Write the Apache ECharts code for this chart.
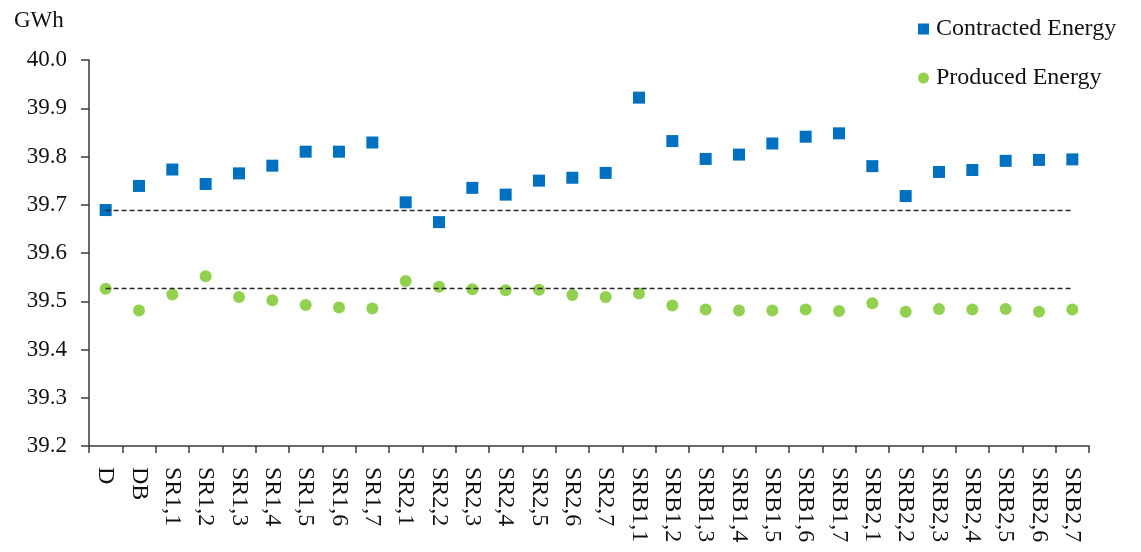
<!DOCTYPE html>
<html>
<head>
<meta charset="utf-8">
<script src="https://cdn.jsdelivr.net/npm/echarts@6/dist/echarts.min.js"></script>
<style>
  html, body { margin: 0; padding: 0; background: #fff; }
  #chart { width: 1141px; height: 552px; }
</style>
</head>
<body>
<div id="chart"></div>
<script>
// Scenario names along the horizontal axis
const categories = [
  'D', 'DB',
  'SR1,1', 'SR1,2', 'SR1,3', 'SR1,4', 'SR1,5', 'SR1,6', 'SR1,7',
  'SR2,1', 'SR2,2', 'SR2,3', 'SR2,4', 'SR2,5', 'SR2,6', 'SR2,7',
  'SRB1,1', 'SRB1,2', 'SRB1,3', 'SRB1,4', 'SRB1,5', 'SRB1,6', 'SRB1,7',
  'SRB2,1', 'SRB2,2', 'SRB2,3', 'SRB2,4', 'SRB2,5', 'SRB2,6', 'SRB2,7'
];

// Energy per scenario, GWh
const contracted = [
  39.689, 39.739,
  39.773, 39.743, 39.765, 39.781, 39.810, 39.810, 39.829,
  39.705, 39.664, 39.735, 39.721, 39.750, 39.756, 39.766,
  39.922, 39.832, 39.795, 39.804, 39.827, 39.841, 39.848,
  39.780, 39.718, 39.768, 39.772, 39.791, 39.793, 39.794
];
const produced = [
  39.526, 39.481,
  39.514, 39.552, 39.509, 39.502, 39.492, 39.487, 39.485,
  39.542, 39.530, 39.525, 39.523, 39.524, 39.513, 39.509,
  39.516, 39.491, 39.483, 39.481, 39.481, 39.483, 39.480,
  39.496, 39.478, 39.484, 39.483, 39.484, 39.478, 39.483
];

// Value axis range and step
const yMin = 39.2;
const yMax = 40.0;
const yStep = 0.1;

const FONT = '"Liberation Serif", "DejaVu Serif", serif';
const AXIS_COLOR = '#3a3a3a';
const TEXT_COLOR = '#111';
const BLUE = '#0070C0';
const GREEN = '#92D050';

// Dashed reference line at the base scenario's level
function baseLine(value) {
  return {
    silent: true,
    symbol: 'none',
    label: { show: false },
    lineStyle: { color: '#2a2a2a', type: [5, 3], width: 1.3, opacity: 1 },
    emphasis: { disabled: true },
    data: [[
      { coord: [categories[0], value] },
      { coord: [categories[categories.length - 1], value] }
    ]]
  };
}

const chart = echarts.init(document.getElementById('chart'), null, { renderer: 'canvas' });

chart.setOption({
  animation: false,
  backgroundColor: '#fff',
  textStyle: { fontFamily: FONT },
  title: {
    text: 'GWh',
    left: 9,
    top: 4,
    textStyle: { fontFamily: FONT, fontSize: 23, fontWeight: 'normal', color: TEXT_COLOR }
  },
  legend: {
    orient: 'vertical',
    left: 913,
    top: 11,
    itemWidth: 11,
    itemHeight: 11,
    itemGap: 23,
    textStyle: {
      fontFamily: FONT,
      fontSize: 24,
      lineHeight: 26,
      color: TEXT_COLOR,
      padding: [0, 0, 0, 2]
    },
    data: [
      { name: 'Contracted Energy', icon: 'rect', itemStyle: { color: BLUE, opacity: 1 } },
      { name: 'Produced Energy', icon: 'circle', itemStyle: { color: GREEN, opacity: 1 } }
    ]
  },
  grid: { left: 89, right: 52, top: 60, bottom: 106, containLabel: false },
  xAxis: {
    type: 'category',
    data: categories,
    boundaryGap: true,
    axisLine: { lineStyle: { color: AXIS_COLOR, width: 1.5 } },
    axisTick: { show: true, alignWithLabel: false, length: 7, lineStyle: { color: AXIS_COLOR, width: 1.5 } },
    axisLabel: {
      interval: 0,
      rotate: -90,
      margin: 21,
      fontFamily: FONT,
      fontSize: 24,
      color: TEXT_COLOR
    },
    splitLine: { show: false }
  },
  yAxis: {
    type: 'value',
    min: yMin,
    max: yMax,
    interval: yStep,
    axisLine: { show: true, lineStyle: { color: AXIS_COLOR, width: 1.5 } },
    axisTick: { show: true, length: 8, lineStyle: { color: AXIS_COLOR, width: 1.5 } },
    axisLabel: {
      margin: 22,
      fontFamily: FONT,
      fontSize: 23,
      color: TEXT_COLOR,
      formatter: v => v.toFixed(1)
    },
    splitLine: { show: false }
  },
  series: [
    {
      name: 'Contracted Energy',
      type: 'scatter',
      symbol: 'rect',
      symbolSize: 12,
      itemStyle: { color: BLUE, opacity: 1 },
      data: contracted,
      markLine: baseLine(contracted[0]),
      z: 3
    },
    {
      name: 'Produced Energy',
      type: 'scatter',
      symbol: 'circle',
      symbolSize: 12,
      itemStyle: { color: GREEN, opacity: 1 },
      data: produced,
      markLine: baseLine(produced[0]),
      z: 3
    }
  ]
});
</script>
</body>
</html>
